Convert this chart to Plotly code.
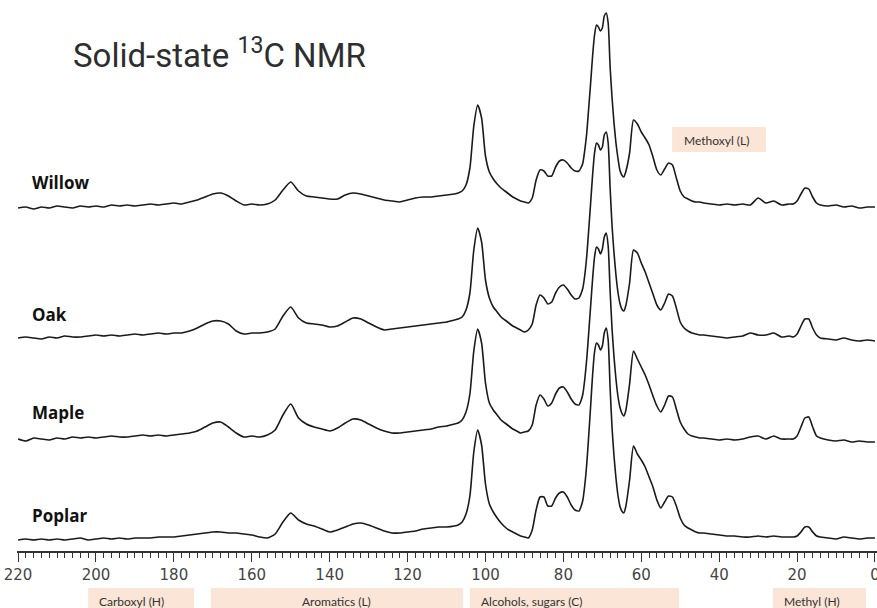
import plotly.graph_objects as go

# ---------------- data ----------------
# chemical shift grid (ppm)
ppm = [220, 218, 216, 214, 212, 210, 208, 206, 204, 202, 200, 198, 196, 194, 192, 190,
       188, 186, 184, 182, 180, 178, 176, 174, 172, 170, 168, 166, 164, 162, 160, 158,
       156, 154, 152, 150, 148, 146, 144, 142, 140, 138, 136, 134, 132, 130, 128, 126,
       124, 122, 120, 118, 116, 114, 112, 110,
       108, 107, 106, 105, 104, 103, 102, 101, 100, 99, 98, 97, 96, 95, 94, 93, 92, 91,
       90, 89, 88, 87, 86, 85, 84, 83, 82, 81, 80, 79, 78, 77,
       76, 75.5, 75, 74.5, 74, 73.5, 73, 72.5, 72, 71.5, 71, 70.5, 70, 69.5, 69, 68.5,
       68, 67.5, 67, 66.5, 66, 65.5, 65, 64.5, 64,
       63, 62, 61, 60, 59, 58, 57, 56, 55, 54, 53, 52, 51, 50, 49, 48, 47, 46, 45,
       44, 42, 40, 38, 36, 34, 32, 30, 28, 26, 24, 22,
       21, 20, 19, 18, 17, 16, 15, 14,
       12, 10, 8, 6, 4, 2, 0]

willow = [0, 1, -1, 1, 0, 2, 1, 0, 2, 1, 2, 1, 3, 2, 3, 2,
          3, 4, 3, 4, 5, 4, 6, 8, 11, 14, 15, 12, 7, 3, 4, 3,
          4, 8, 18, 26, 17, 12, 11, 10, 9, 9, 13, 15, 14, 12, 10, 8,
          7, 6, 8, 10, 11, 11, 12, 13,
          14, 15, 17, 23, 40, 82, 103, 90, 52, 36, 29, 24, 20, 17, 14, 11, 9, 7,
          6, 5, 10, 28, 38, 37, 32, 32, 41, 47, 48, 45, 40, 37,
          37, 40, 45, 58, 75, 100, 125, 152, 173, 183, 181, 177, 180, 192, 195, 185,
          141, 110, 85, 65, 50, 38, 33, 31, 36,
          55, 88, 84, 76, 70, 63, 51, 38, 33, 39, 45, 43, 30, 17, 11, 9, 7, 6, 6,
          5, 4, 3, 4, 3, 4, 3, 10, 5, 7, 3, 4,
          4, 7, 14, 20, 19, 11, 5, 3,
          2, 3, 1, 2, 0, 1, 1]

oak = [0, 1, 0, -1, 1, 0, 2, 1, 1, 2, 3, 2, 3, 2, 3, 4,
       3, 4, 5, 4, 5, 5, 7, 10, 14, 17, 17, 14, 7, 4, 5, 5,
       6, 9, 22, 31, 20, 15, 14, 13, 11, 12, 16, 20, 19, 15, 11, 8,
       9, 10, 11, 12, 13, 14, 15, 16,
       18, 19, 21, 28, 45, 88, 110, 96, 58, 40, 31, 26, 21, 18, 15, 12, 10, 8,
       6, 8, 14, 33, 43, 40, 34, 36, 45, 51, 53, 49, 43, 39,
       40, 44, 50, 63, 82, 108, 135, 163, 185, 195, 193, 188, 191, 203, 206, 195,
       150, 112, 85, 63, 46, 35, 29, 27, 32,
       55, 88, 85, 75, 66, 55, 44, 33, 28, 35, 44, 42, 30, 16, 10, 7, 5, 4, 3,
       3, 2, 1, 0, 1, 2, 5, 3, 3, 5, 1, 2,
       1, 4, 12, 19, 19, 10, 3, 0,
       -1, -2, 0, -2, -3, -2, -3]

maple = [0, -2, 1, 0, -1, 1, 0, 2, 1, 2, 1, 2, 3, 2, 2, 3,
         4, 3, 4, 3, 4, 5, 6, 8, 12, 16, 17, 12, 6, 2, 3, 2,
         4, 9, 24, 35, 21, 15, 12, 10, 8, 11, 16, 20, 19, 15, 11, 8,
         6, 6, 7, 8, 9, 10, 12, 13,
         15, 16, 19, 27, 45, 88, 110, 96, 56, 36, 29, 24, 19, 16, 13, 10, 8, 6,
         7, 8, 14, 34, 44, 40, 33, 36, 45, 51, 52, 47, 40, 35,
         34, 38, 45, 60, 80, 106, 133, 160, 182, 192, 190, 185, 190, 202, 206, 193,
         148, 110, 82, 60, 43, 32, 26, 23, 28,
         55, 88, 80, 72, 64, 54, 43, 33, 27, 34, 43, 42, 30, 17, 10, 5, 3, 2, 1,
         1, 0, -1, 0, -1, 0, 2, 3, 0, 3, 0, 0,
         0, 3, 12, 21, 22, 12, 3, 1,
         -1, -2, -1, -3, -2, -3, -3]

poplar = [0, 1, 0, 1, 0, 1, 0, 1, 2, 0, 1, 2, 1, 2, 1, 2,
          2, 2, 3, 3, 3, 4, 5, 6, 7, 8, 8, 7, 7, 6, 5, 3,
          2, 6, 18, 27, 20, 16, 14, 11, 8, 10, 13, 16, 17, 15, 12, 9,
          7, 7, 8, 9, 11, 12, 13, 13,
          14, 15, 18, 26, 44, 88, 110, 95, 56, 36, 28, 22, 17, 13, 10, 8, 6, 4,
          3, 2, 10, 30, 43, 43, 34, 34, 42, 47, 48, 43, 35, 30,
          29, 33, 40, 55, 76, 104, 134, 165, 188, 197, 195, 190, 194, 207, 212, 200,
          152, 112, 84, 62, 45, 34, 29, 27, 33,
          60, 94, 86, 80, 73, 63, 53, 40, 32, 38, 44, 43, 34, 22, 15, 12, 10, 8, 7,
          7, 6, 5, 4, 4, 3, 3, 4, 3, 4, 3, 3,
          3, 4, 8, 13, 13, 8, 4, 3,
          2, 1, 3, 2, 1, 2, 2]

samples = ["Willow", "Oak", "Maple", "Poplar"]
spectra = [willow, oak, maple, poplar]

tick_values = [220, 200, 180, 160, 140, 120, 100, 80, 60, 40, 20, 0]
tick_labels = ["220", "200", "180", "160", "140", "120", "100", "80", "60", "40", "20", "0"]

region_names = ["Carboxyl (H)", "Aromatics (L)", "Alcohols, sugars (C)", "Methyl (H)"]
region_from = [202.0, 170.5, 104.0, 26.2]
region_to = [174.8, 105.8, 50.3, 2.3]
methoxyl_name = "Methoxyl (L)"
methoxyl_from = 52.1
methoxyl_to = 28.0

title_text = "Solid-state <sup>13</sup>C NMR"

# ---------------- layout constants ----------------
W, H = 877, 608
ML, MR, MT, MB = 17, 0, 0, 57
PLOT_H = H - MT - MB          # 551 px, y axis 1 unit = 1 px
X0, X1 = 220.28, -0.52        # reversed ppm axis
OFFSETS = [343, 213, 112, 11] # vertical stacking of the traces
LABEL_Y = [183, 314, 412, 515]  # px from top
BOX = "#fbe5d6"


def xpaper(v):
    return (X0 - v) / (X0 - X1)


def ypaper(px_from_top):
    return (PLOT_H - (px_from_top - MT)) / PLOT_H


fig = go.Figure()
for name, vals, off in zip(samples, spectra, OFFSETS):
    fig.add_trace(go.Scatter(
        x=ppm, y=[v + off for v in vals], mode="lines", name=name,
        line=dict(color="#1a1a1a", width=1.6, shape="spline", smoothing=0.6),
        hoverinfo="x+name", showlegend=False))

shapes = []
annotations = []
# bottom region boxes
for name, a, b in zip(region_names, region_from, region_to):
    shapes.append(dict(type="rect", xref="paper", yref="paper",
                       x0=xpaper(a), x1=xpaper(b), y0=ypaper(612), y1=ypaper(588),
                       fillcolor=BOX, line=dict(width=0), layer="below"))
    centered = name.startswith("Aromatics")
    annotations.append(dict(
        xref="paper", yref="paper",
        x=(xpaper(a) + xpaper(b)) / 2 if centered else xpaper(a) + 9 / 860,
        xanchor="center" if centered else "left",
        y=ypaper(601), yanchor="middle", showarrow=False, text=name,
        font=dict(family="Lato, Open Sans, sans-serif", size=12, color="#333333")))

# methoxyl box
shapes.append(dict(type="rect", xref="paper", yref="paper",
                   x0=xpaper(methoxyl_from), x1=xpaper(methoxyl_to),
                   y0=ypaper(152), y1=ypaper(127),
                   fillcolor=BOX, line=dict(width=0), layer="below"))
annotations.append(dict(xref="paper", yref="paper", x=xpaper(methoxyl_from) + 10 / 860,
                        xanchor="left", y=ypaper(140), yanchor="middle", showarrow=False,
                        text=methoxyl_name,
                        font=dict(family="Lato, Open Sans, sans-serif", size=12,
                                  color="#333333")))

# sample labels
for name, ly in zip(samples, LABEL_Y):
    annotations.append(dict(xref="paper", yref="paper", x=(30 - ML) / 860, xanchor="left",
                            y=ypaper(ly), yanchor="middle", showarrow=False,
                            text="<b>%s</b>" % name,
                            font=dict(family="Open Sans, Noto Sans, sans-serif", size=17,
                                      color="#111111")))

# title
annotations.append(dict(xref="paper", yref="paper", x=(71 - ML) / 860, xanchor="left",
                        y=ypaper(54), yanchor="middle", showarrow=False, text=title_text,
                        font=dict(family="Roboto, Liberation Sans, sans-serif",
                                  size=33, color="#2e2e2e")))

fig.update_layout(
    width=W, height=H,
    margin=dict(l=ML, r=MR, t=MT, b=MB, pad=0),
    paper_bgcolor="white", plot_bgcolor="white",
    shapes=shapes, annotations=annotations,
    xaxis=dict(range=[X0, X1], tickmode="array", tickvals=tick_values, ticktext=tick_labels,
               showgrid=False, zeroline=False, showline=True, linecolor="#333333",
               linewidth=1.5, ticks="outside", ticklen=9, tickwidth=1.2, tickcolor="#333333",
               tickfont=dict(family="DejaVu Sans, Verdana, sans-serif", size=15,
                             color="#444444"),
               ticklabeloverflow="allow",
               minor=dict(dtick=2, tick0=0, ticks="outside", ticklen=5, tickwidth=1,
                          tickcolor="#333333", showgrid=False),
               automargin=False, fixedrange=True),
    yaxis=dict(range=[0, PLOT_H], visible=False, showgrid=False, zeroline=False,
               fixedrange=True),
)

fig.write_html("out.html")
